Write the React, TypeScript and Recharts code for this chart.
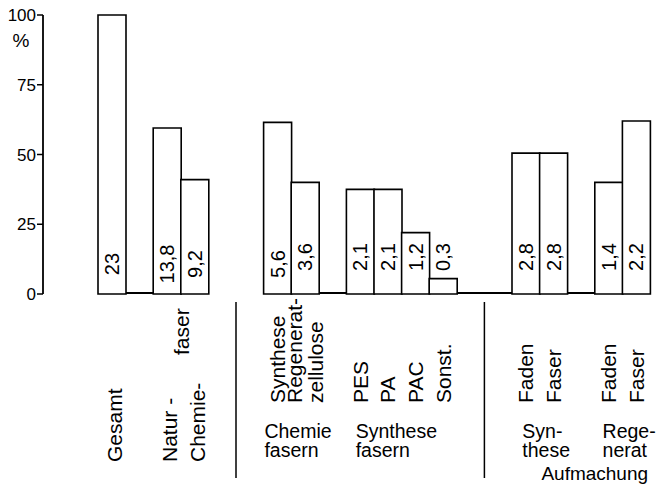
import React from 'react';
import { BarChart, Bar, XAxis, YAxis, LabelList, ReferenceArea } from 'recharts';

// ---- data ----
const categories = ['Gesamt', 'gap1', 'Natur', 'Chemie', 'gap2', 'gap3', 'Synthese', 'Regenerat', 'gap4', 'PES', 'PA', 'PAC', 'Sonst.', 'gap5', 'gap6', 'SynFaden', 'SynFaser', 'gap7', 'RegFaden', 'RegFaser'];
const shares: (number | null)[] = [100, null, 59.5, 41, null, null, 61.5, 40, null, 37.5, 37.5, 22, 5.5, null, null, 50.5, 50.5, null, 40, 62];
const amounts = ['23', '', '13,8', '9,2', '', '', '5,6', '3,6', '', '2,1', '2,1', '1,2', '0,3', '', '', '2,8', '2,8', '', '1,4', '2,2'];
const tickLabels: string[][] = [['Gesamt'], [], ['Natur -'], ['Chemie-'], [], [], ['Synthese'], ['Regenerat-', 'zellulose'], [], ['PES'], ['PA'], ['PAC'], ['Sonst.'], [], [], ['Faden'], ['Faser'], [], ['Faden'], ['Faser']];
const sharedSuffix = { at: 'Natur', text: 'faser' };
const groupTitles = [
  { at: 'Synthese', lines: ['Chemie', 'fasern'] },
  { at: 'PES', lines: ['Synthese', 'fasern'] },
  { at: 'SynFaden', lines: ['Syn-', 'these'] },
  { at: 'RegFaden', lines: ['Rege-', 'nerat'] },
];
const bottomTitle = { at: 'SynFaser', text: 'Aufmachung' };
const separatorsAt = ['gap3', 'gap6'];
const yTicks = [0, 25, 50, 75, 100];
const yUnit = '%';

const data = categories.map((key, i) => ({ key, share: shares[i], amount: amounts[i] }));

// ---- style ----
const FONT = '"Liberation Sans", Arial, sans-serif';
const titleDx: Record<string, number> = { Synthese: -13, PES: -4.5, SynFaden: -3.5, RegFaden: -6 };

const XTick = (props: any) => {
  const { x, y, payload } = props;
  const key = payload.value as string;
  const idx = categories.indexOf(key);
  const lines = tickLabels[idx] || [];
  const firstGroup = idx < 4;
  const bottom = firstGroup ? y + 168 : y + 109;
  const baseDx = firstGroup ? 10 : 7.5;
  const lineGap = 21;
  const startDx = baseDx - ((lines.length - 1) * lineGap) / 2;
  const els: React.ReactNode[] = [];
  lines.forEach((t, j) => {
    const tx = x + startDx + j * lineGap;
    els.push(
      <text key={'v' + j} x={tx} y={bottom} transform={`rotate(-90, ${tx}, ${bottom})`} fontFamily={FONT} fontSize={21} fill="#000" textAnchor="start">{t}</text>
    );
  });
  if (key === sharedSuffix.at) {
    const tx = x + 22;
    const ty = y + 61;
    els.push(<text key="suf" x={tx} y={ty} transform={`rotate(-90, ${tx}, ${ty})`} fontFamily={FONT} fontSize={21} fill="#000">{sharedSuffix.text}</text>);
  }
  const g = groupTitles.find((gt) => gt.at === key);
  if (g) {
    g.lines.forEach((t, j) => {
      els.push(<text key={'g' + j} x={x + (titleDx[key] ?? 0)} y={y + 144 + j * 19} fontFamily={FONT} fontSize={19.5} fill="#000">{t}</text>);
    });
  }
  if (key === bottomTitle.at) {
    els.push(<text key="bt" x={x - 12} y={y + 186} fontFamily={FONT} fontSize={19} fill="#000">{bottomTitle.text}</text>);
  }
  if (separatorsAt.includes(key)) {
    els.push(<line key="sep" x1={x - 13.8} x2={x - 13.8} y1={y + 8} y2={y + 184} stroke="#000" strokeWidth={1.5} />);
  }
  return <g>{els}</g>;
};

const YTick = (props: any) => {
  const { x, y, payload } = props;
  return (
    <g>
      <text x={x} y={y} dy="0.36em" textAnchor="end" fontFamily={FONT} fontSize={17} fill="#000">{payload.value}</text>
      {payload.value === 100 && (
        <text x={x - 15} y={y + 32} textAnchor="middle" fontFamily={FONT} fontSize={19} fill="#000">{yUnit}</text>
      )}
    </g>
  );
};

const ValueLabel = (props: any) => {
  const { x, y, width, height, value, index } = props;
  if (!value) return null;
  const cx = x + width / 2 + 7;
  const base = y + height;
  const cy = base - (index < 4 ? 30 : 37);
  return (
    <text x={cx} y={cy} transform={`rotate(-90, ${cx}, ${cy})`} textAnchor="middle" fontFamily={FONT} fontSize={20} fill="#000">{value}</text>
  );
};

export default function App() {
  return (
    <div style={{ position: 'absolute', left: 0, top: 0, width: 659, height: 486, background: '#fff' }}>
      <BarChart width={659} height={486} data={data} margin={{ top: 15, right: 9, bottom: 0, left: 0 }} barCategoryGap={0} barGap={0}>
        <XAxis dataKey="key" type="category" interval={0} axisLine={false} tickLine={false} tickSize={0} tickMargin={0} height={192} padding={{ left: 55, right: 0 }} tick={<XTick />} />
        <YAxis type="number" domain={[0, 100]} ticks={yTicks} width={43} axisLine={{ stroke: '#000', strokeWidth: 1.8 }} tickLine={{ stroke: '#000', strokeWidth: 1.5 }} tickSize={6} tickMargin={1} tick={<YTick />} />
        <ReferenceArea x1="Gesamt" x2="Chemie" y1={0} y2={0.7} fill="#000" fillOpacity={1} stroke="none" ifOverflow="visible" />
        <ReferenceArea x1="Synthese" x2="RegFaser" y1={0} y2={0.7} fill="#000" fillOpacity={1} stroke="none" ifOverflow="visible" />
        <Bar dataKey="share" fill="#fff" stroke="#000" strokeWidth={1.6} isAnimationActive={false}>
          <LabelList dataKey="amount" content={<ValueLabel />} />
        </Bar>
      </BarChart>
    </div>
  );
}
